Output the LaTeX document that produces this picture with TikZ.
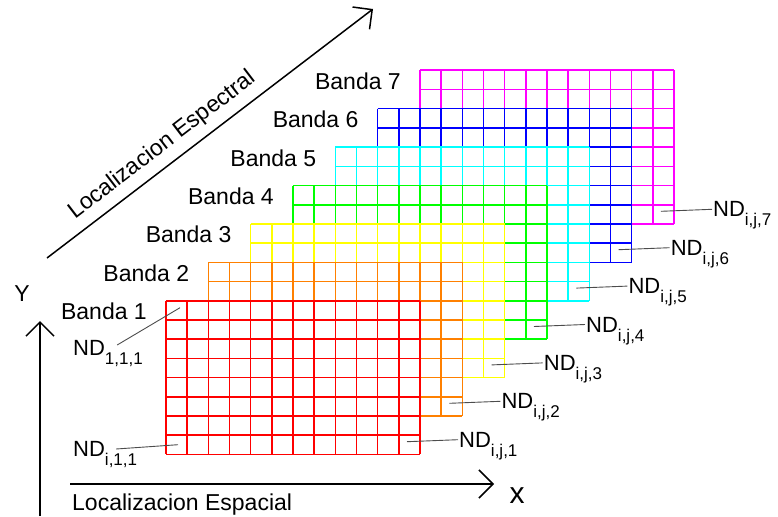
\documentclass[tikz,border=0pt]{standalone}
\usepackage{fontspec}
\setmainfont{Liberation Sans}
\usetikzlibrary{arrows.meta,positioning}

\definecolor{rojo}{RGB}{255,0,0}
\definecolor{naranja}{RGB}{255,128,0}
\definecolor{amarillo}{RGB}{255,255,0}
\definecolor{verde}{RGB}{0,255,0}
\definecolor{cian}{RGB}{0,255,255}
\definecolor{azul}{RGB}{0,0,255}
\definecolor{magenta}{RGB}{255,0,255}
\newcommand{\nd}[1]{ND\rlap{\smash{\raisebox{-9pt}{\fontsize{17}{17}\selectfont #1}}}}

\begin{document}
\begin{tikzpicture}[x=1pt,y=-1pt,
  grid line/.style={line width=1.6pt},
  banda/.style={anchor=base east,inner sep=0pt,font=\fontsize{23}{23}\selectfont},
  ndlab/.style={inner sep=1pt,font=\fontsize{22}{22}\selectfont},
  pointer/.style={draw=black!70,line width=0.9pt},
  axis/.style={draw,line width=1.5pt,-{Straight Barb[length=14pt,width=28pt]}},
  axlab/.style={inner sep=0pt,font=\fontsize{23}{23}\selectfont}]
  \useasboundingbox (0,0) rectangle (778,516);

  % bands, back to front
  \foreach \k/\col in {7/magenta,6/azul,5/cian,4/verde,3/amarillo,2/naranja,1/rojo}{
    \begin{scope}[shift={({166+(\k-1)*42.33},{300.7-(\k-1)*38.4})}]
      \fill[white] (0,0) rectangle (254,153.6);
      \foreach \i in {0,...,12}
        \draw[grid line,\col] ({\i*21.1667},0) -- ({\i*21.1667},153.6);
      \foreach \j in {0,...,8}
        \draw[grid line,\col] (0,{\j*19.2}) -- (254,{\j*19.2});
      \node[banda] (b\k) at (-19,19) {Banda \k};
      \coordinate (s\k) at (241,141);
      \node[ndlab,right=51pt of s\k,anchor=west,yshift=2pt] (n\k) {\nd{i,j,\k}};
      \draw[pointer] (s\k) -- (n\k.west);
    \end{scope}
  }

  % first pixels of band 1
  \coordinate (a1) at (180,307.7);
  \coordinate (a2) at (178,444.7);
  \node[ndlab,anchor=west] (n111) at (72,348) {\nd{1,1,1}};
  \node[ndlab,anchor=west] (ni11) at (72,449) {\nd{i,1,1}};
  \draw[pointer] (a1) -- ([xshift=11pt,yshift=3pt]n111.east);
  \draw[pointer] (a2) -- ([xshift=10pt]ni11.east);

  % axes
  \coordinate (y0) at (40,516);
  \coordinate (y1) at (40,321);
  \coordinate (x0) at (70,484);
  \coordinate (x1) at (494,484);
  \coordinate (e0) at (47,258);
  \coordinate (e1) at (373,9);
  \draw[axis] (y0) -- (y1);
  \draw[axis] (x0) -- (x1);
  \draw[axis] (e0) -- node[axlab,sloped,above=8pt,pos=0.39] (espectral) {Localizacion Espectral} (e1);
  \node[axlab] (ylab) at (22,294) {Y};
  \node[axlab,font=\fontsize{30}{30}\selectfont] (xlab) at (517,496) {x};
  \node[axlab,anchor=base west] (espacial) at (72,510) {Localizacion Espacial};
\end{tikzpicture}
\end{document}
